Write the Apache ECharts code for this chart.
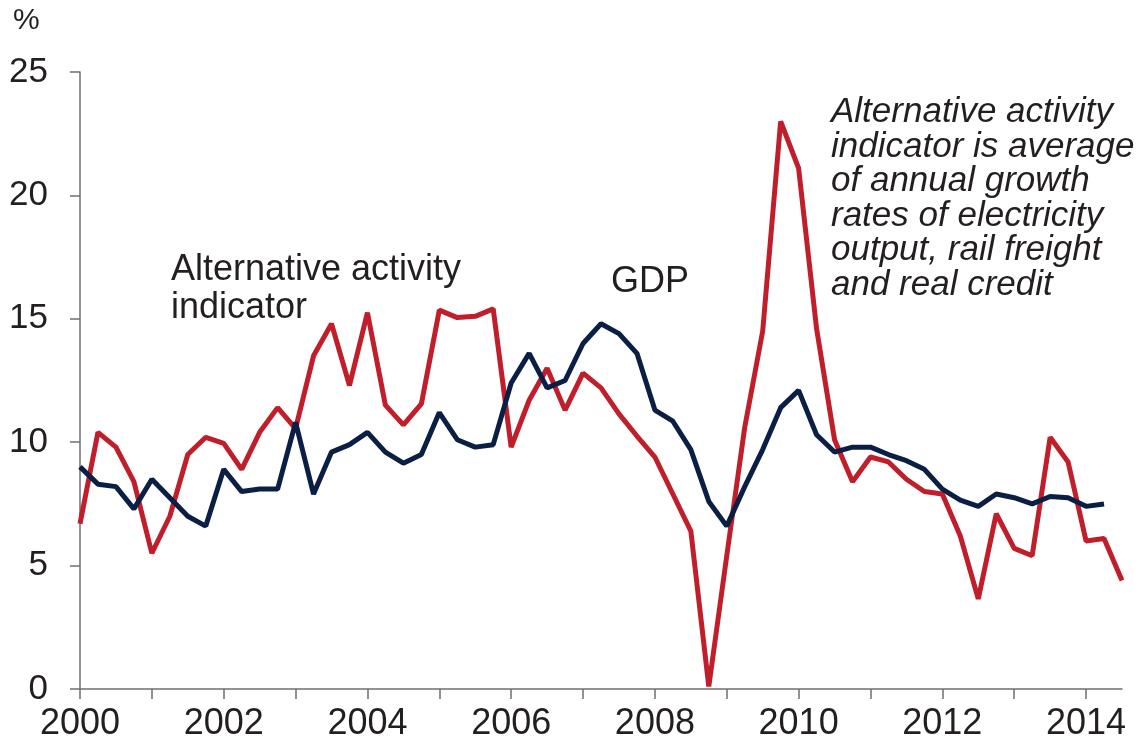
<!DOCTYPE html>
<html>
<head>
<meta charset="utf-8">
<script src="https://cdn.jsdelivr.net/npm/echarts@6/dist/echarts.min.js"></script>
<style>
  html, body { margin: 0; padding: 0; background: #fff; }
  #chart { width: 1146px; height: 746px; }
</style>
</head>
<body>
<div id="chart"></div>
<script>
// quarterly, starting 2000 Q1
const startYear = 2000;
const altActivity = [
  6.7, 10.4, 9.8, 8.4, 5.5, 7.0, 9.5, 10.2, 9.95, 8.9,
  10.4, 11.4, 10.55, 13.5, 14.8, 12.3, 15.25, 11.5, 10.7, 11.55,
  15.35, 15.05, 15.1, 15.4, 9.8, 11.7, 13.0, 11.3, 12.8, 12.2,
  11.15, 10.25, 9.4, 7.9, 6.4, 0.1, 5.4, 10.6, 14.5, 23.0,
  21.1, 14.6, 10.1, 8.4, 9.4, 9.2, 8.5, 8.0, 7.9, 6.2,
  3.65, 7.1, 5.7, 5.4, 10.2, 9.2, 6.0, 6.1, 4.4
];
const gdp = [
  9.0, 8.3, 8.2, 7.3, 8.5, 7.75, 7.0, 6.6, 8.9, 8.0,
  8.1, 8.1, 10.8, 7.9, 9.6, 9.9, 10.4, 9.6, 9.15, 9.5,
  11.2, 10.1, 9.8, 9.9, 12.4, 13.6, 12.2, 12.5, 14.0, 14.8,
  14.4, 13.6, 11.3, 10.85, 9.7, 7.6, 6.6, 8.2, 9.7, 11.4,
  12.1, 10.3, 9.6, 9.8, 9.8, 9.5, 9.25, 8.9, 8.1, 7.65,
  7.4, 7.9, 7.75, 7.5, 7.8, 7.75, 7.4, 7.5
];
const yearTicks = [2000, 2001, 2002, 2003, 2004, 2005, 2006, 2007, 2008, 2009, 2010, 2011, 2012, 2013, 2014];
const yearLabels = [2000, 2002, 2004, 2006, 2008, 2010, 2012, 2014];

const toPairs = arr => arr.map((v, i) => [startYear + i * 0.25, v]);

const textColor = '#231f20';
const axisColor = '#6f6f6f';
const font = 'Liberation Sans, Arial, sans-serif';

const chart = echarts.init(document.getElementById('chart'));

const option = {
  backgroundColor: '#fff',
  animation: false,
  grid: { left: 80, right: 24, top: 72, bottom: 57 },
  xAxis: {
    type: 'value',
    min: 2000,
    max: 2014.5,
    interval: 1,
    axisLine: { lineStyle: { color: axisColor, width: 1.5 } },
    axisTick: {
      length: 10,
      customValues: yearTicks,
      lineStyle: { color: axisColor, width: 1.5 }
    },
    axisLabel: {
      customValues: yearLabels,
      color: textColor,
      fontFamily: font,
      fontSize: 36,
      margin: 17,
      formatter: v => String(v)
    },
    splitLine: { show: false }
  },
  yAxis: {
    type: 'value',
    min: 0,
    max: 25,
    interval: 5,
    axisLine: { show: true, lineStyle: { color: axisColor, width: 1.5 } },
    axisTick: { show: true, length: 10, lineStyle: { color: axisColor, width: 1.5 } },
    axisLabel: {
      color: textColor,
      fontFamily: font,
      fontSize: 35,
      margin: 32
    },
    splitLine: { show: false }
  },
  graphic: [
    { type: 'text', left: 13, top: 6, style: { text: '%', fill: textColor, font: '30px ' + font } },
    {
      type: 'text', left: 171, top: 251,
      style: { text: 'Alternative activity\nindicator', fill: textColor, font: '36px ' + font, lineHeight: 38 }
    },
    { type: 'text', left: 611, top: 264, style: { text: 'GDP', fill: textColor, font: '36px ' + font, lineHeight: 36 } },
    {
      type: 'text', left: 831, top: 95,
      style: {
        text: 'Alternative activity\nindicator is average\nof annual growth\nrates of electricity\noutput, rail freight\nand real credit',
        fill: textColor,
        font: 'italic 35px ' + font,
        lineHeight: 34.5
      }
    }
  ],
  series: [
    {
      name: 'Alternative activity indicator',
      type: 'line',
      data: toPairs(altActivity),
      showSymbol: false,
      lineStyle: { color: '#c01e2b', width: 5 },
      itemStyle: { color: '#c01e2b' }
    },
    {
      name: 'GDP',
      type: 'line',
      data: toPairs(gdp),
      showSymbol: false,
      lineStyle: { color: '#0b1f45', width: 5 },
      itemStyle: { color: '#0b1f45' }
    }
  ]
};

chart.setOption(option);
</script>
</body>
</html>
